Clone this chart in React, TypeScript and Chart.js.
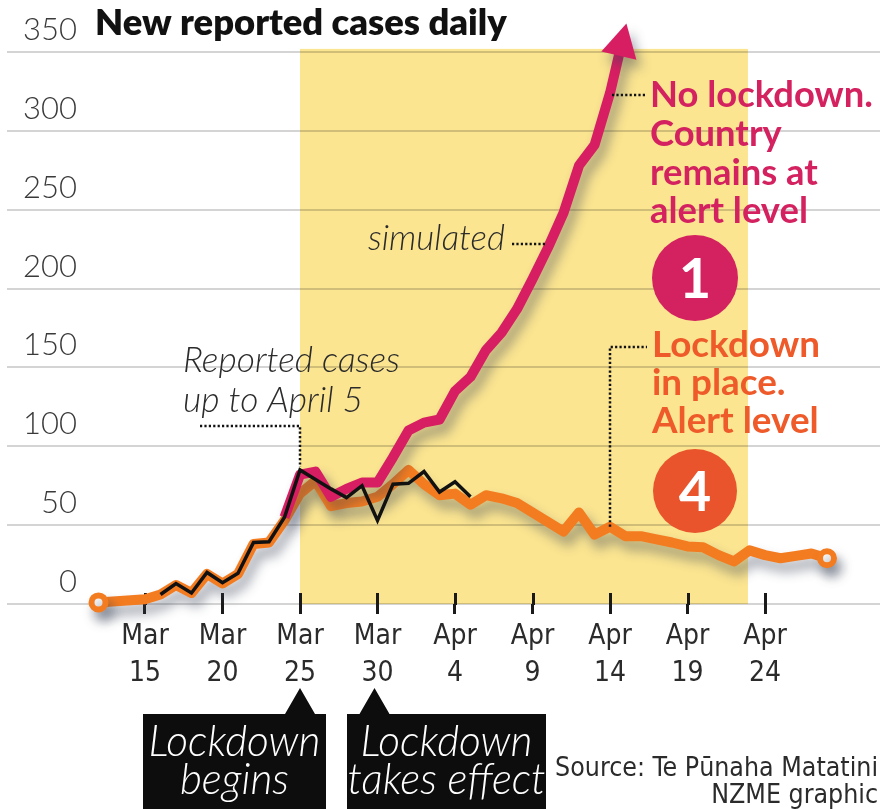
import React, { useEffect, useRef } from 'react';
import { Chart, registerables } from 'chart.js';

Chart.register(...registerables);

// Day index: 0 = Mar 15
const xTickDays = [0, 5, 10, 15, 20, 25, 30, 35, 40];
const xTickLabels = [
  ['Mar', '15'], ['Mar', '20'], ['Mar', '25'], ['Mar', '30'],
  ['Apr', '4'], ['Apr', '9'], ['Apr', '14'], ['Apr', '19'], ['Apr', '24'],
];
const yTickValues = [0, 50, 100, 150, 200, 250, 300, 350];

// Reported cases up to April 5 (black)
const reportedDays = [1, 2, 3, 4, 5, 6, 7, 8, 9, 10, 11, 12, 13, 14, 15, 16, 17, 18, 19, 20, 21];
const reportedCases = [6, 13, 7, 20, 13.5, 19.5, 39, 39.5, 55, 85, 79, 73, 67.5, 75, 53, 76, 76.5, 84, 71, 77.5, 68];

// Simulated: no lockdown, alert level 1 (pink)
const noLockdownDays = [9, 10, 11, 12, 13, 14, 15, 16, 17, 18, 19, 20, 21, 22, 23, 24, 25, 26, 27, 28, 29, 30, 30.6];
const noLockdownCases = [55, 82, 84, 68, 73, 77, 77, 93, 110, 115, 117, 135, 144, 161, 172, 187, 206, 226, 248, 278, 291, 324, 349];

// Simulated: lockdown in place, alert level 4 (orange)
const lockdownDays = [-3, 0, 1, 2, 3, 4, 5, 6, 7, 8, 9, 10, 11, 12, 13, 14, 15, 16, 17, 18, 19, 20, 21, 22, 23, 24, 25, 26, 27, 28, 29, 30, 31, 32, 33, 34, 35, 36, 37, 38, 39, 40, 41, 42, 43, 44];
const lockdownCases = [1, 3, 6, 12, 7, 19, 13, 19, 38, 39, 53, 70, 78, 62, 64, 65, 68, 76, 85, 76, 69, 70, 63, 69, 67, 64, 58, 52, 46, 58, 44, 49, 43, 43, 41, 39, 36.5, 36, 31, 27, 34, 31, 29, 30.5, 32, 29];

// Shaded lockdown period
const shadeStartDay = 10;
const shadeEndDay = 38.9;
const shadeTopValue = 352;

const TITLE = 'New reported cases daily';
const reportedNote = ['Reported cases', 'up to April 5'];
const simulatedNote = 'simulated';
const pinkNote = ['No lockdown.', 'Country', 'remains at', 'alert level'];
const orangeNote = ['Lockdown', 'in place.', 'Alert level'];
const box1Lines = ['Lockdown', 'begins'];
const box2Lines = ['Lockdown', 'takes effect'];
const sourceLines = ['Source: Te Pūnaha Matatini', 'NZME graphic'];

const PINK = '#d81e62';
const PINK_TEXT = '#d4215f';
const ORANGE = '#f47c20';
const ORANGE_TEXT = '#ee5a29';
const ORANGE_CIRCLE = '#e9542c';
const YELLOW = '#fbe591';
const SHADOW = 'rgba(55,65,85,0.45)';

const LATO = "Lato, 'Open Sans', sans-serif";
const NARROW = "'Liberation Sans Narrow', 'DejaVu Sans Condensed', Roboto, sans-serif";

function fitSize(ctx: CanvasRenderingContext2D, text: string, fontFn: (s: number) => string, target: number, base: number) {
  ctx.font = fontFn(base);
  const w = ctx.measureText(text).width;
  return w > 0 ? (base * target) / w : base;
}

function dotted(ctx: CanvasRenderingContext2D, pts: number[][]) {
  ctx.save();
  ctx.strokeStyle = '#111';
  ctx.lineWidth = 2.5;
  ctx.setLineDash([2.2, 2.2]);
  ctx.beginPath();
  pts.forEach((p, i) => (i ? ctx.lineTo(p[0], p[1]) : ctx.moveTo(p[0], p[1])));
  ctx.stroke();
  ctx.restore();
}

const artPlugin = {
  id: 'art',
  beforeDraw(chart: any) {
    const { ctx } = chart;
    const xs = chart.scales.x;
    const ys = chart.scales.y;
    const x0 = xs.getPixelForValue(shadeStartDay);
    const x1 = xs.getPixelForValue(shadeEndDay);
    const y0 = ys.getPixelForValue(shadeTopValue);
    const y1 = ys.getPixelForValue(0);
    ctx.save();
    ctx.fillStyle = YELLOW;
    ctx.fillRect(x0, y0, x1 - x0, y1 - y0);
    ctx.restore();
  },
  beforeDatasetsDraw(chart: any) {
    // upper stubs of x tick marks (crossing the axis line)
    const { ctx } = chart;
    const xs = chart.scales.x;
    const yb = chart.chartArea.bottom;
    ctx.save();
    ctx.strokeStyle = '#1a1a1a';
    ctx.lineWidth = 3;
    xs.ticks.forEach((t: any) => {
      const px = Math.round(xs.getPixelForValue(t.value)) + 0.5;
      ctx.beginPath();
      ctx.moveTo(px, yb - 11);
      ctx.lineTo(px, yb + 1);
      ctx.stroke();
    });
    ctx.restore();
  },
  beforeDatasetDraw(chart: any, args: any) {
    const ds = chart.data.datasets[args.index];
    const ctx = chart.ctx;
    ctx.save();
    if (ds.shadow) {
      ctx.shadowColor = SHADOW;
      ctx.shadowBlur = 12;
      ctx.shadowOffsetX = 5;
      ctx.shadowOffsetY = 9;
    }
  },
  afterDatasetDraw(chart: any) {
    chart.ctx.restore();
  },
  afterDatasetsDraw(chart: any) {
    // arrow head at the end of the simulated no-lockdown line
    const { ctx } = chart;
    const meta = chart.getDatasetMeta(1);
    const pts = meta.data;
    const a = pts[pts.length - 2];
    const b = pts[pts.length - 1];
    const dx = b.x - a.x;
    const dy = b.y - a.y;
    const len = Math.hypot(dx, dy) || 1;
    const ux = dx / len;
    const uy = dy / len;
    const px = -uy;
    const py = ux;
    const bx = b.x - ux * 2;
    const by = b.y - uy * 2;
    ctx.save();
    ctx.shadowColor = SHADOW;
    ctx.shadowBlur = 12;
    ctx.shadowOffsetX = 5;
    ctx.shadowOffsetY = 9;
    ctx.fillStyle = PINK;
    ctx.beginPath();
    ctx.moveTo(b.x + ux * 31, b.y + uy * 31);
    ctx.lineTo(bx + px * 18, by + py * 18);
    ctx.lineTo(bx - px * 18, by - py * 18);
    ctx.closePath();
    ctx.fill();
    ctx.restore();
  },
  afterDraw(chart: any) {
    const { ctx } = chart;
    const xs = chart.scales.x;
    const ys = chart.scales.y;
    ctx.save();
    ctx.textBaseline = 'alphabetic';
    ctx.textAlign = 'left';

    // Title
    const titleFont = (s: number) => `800 ${s}px ${LATO}`;
    let s = fitSize(ctx, TITLE, titleFont, 412, 32);
    ctx.font = titleFont(s);
    ctx.fillStyle = '#111';
    ctx.fillText(TITLE, 95, 35);

    // Reported cases note
    const italicLight = (sz: number) => `italic 300 ${sz}px ${LATO}`;
    s = fitSize(ctx, reportedNote[0], italicLight, 217, 32);
    ctx.font = italicLight(s);
    ctx.fillStyle = '#2b2b2b';
    ctx.fillText(reportedNote[0], 183, 372);
    ctx.fillText(reportedNote[1], 183, 412);
    const px10 = xs.getPixelForValue(10);
    dotted(ctx, [[200, 426], [px10, 426], [px10, ys.getPixelForValue(85) - 3]]);

    // simulated note
    s = fitSize(ctx, simulatedNote, italicLight, 137, 32);
    ctx.font = italicLight(s);
    ctx.fillStyle = '#2b2b2b';
    ctx.fillText(simulatedNote, 368, 250);
    dotted(ctx, [[512, 244], [547, 244]]);

    // Pink note
    const boldFont = (sz: number) => `bold ${sz}px ${LATO}`;
    s = fitSize(ctx, pinkNote[0], boldFont, 223, 32);
    ctx.font = boldFont(s);
    ctx.fillStyle = PINK_TEXT;
    const pinkBase = [107, 146, 185, 223];
    pinkNote.forEach((t, i) => ctx.fillText(t, 650, pinkBase[i]));
    dotted(ctx, [[612, 95], [647, 95]]);

    // Circle 1
    ctx.fillStyle = PINK_TEXT;
    ctx.beginPath();
    ctx.arc(695, 278, 43, 0, Math.PI * 2);
    ctx.fill();
    ctx.fillStyle = '#fff';
    ctx.font = `bold 56px ${LATO}`;
    ctx.textAlign = 'center';
    ctx.fillText('1', 695, 298);
    ctx.textAlign = 'left';

    // Orange note
    s = fitSize(ctx, orangeNote[0], boldFont, 168, 32);
    ctx.font = boldFont(s);
    ctx.fillStyle = ORANGE_TEXT;
    const orangeBase = [357, 395, 433];
    orangeNote.forEach((t, i) => ctx.fillText(t, 652, orangeBase[i]));
    const px30 = xs.getPixelForValue(30);
    dotted(ctx, [[px30, ys.getPixelForValue(49)], [px30, 347], [647, 347]]);

    // Circle 4
    ctx.fillStyle = ORANGE_CIRCLE;
    ctx.beginPath();
    ctx.arc(695, 491, 42, 0, Math.PI * 2);
    ctx.fill();
    ctx.fillStyle = '#fff';
    ctx.font = `bold 56px ${LATO}`;
    ctx.textAlign = 'center';
    ctx.fillText('4', 695, 511);

    // Black boxes
    const drawBox = (left: number, right: number, tipX: number, lines: string[]) => {
      ctx.fillStyle = '#0d0d0d';
      ctx.beginPath();
      ctx.moveTo(left, 714);
      ctx.lineTo(tipX - 15, 714);
      ctx.lineTo(tipX, 688);
      ctx.lineTo(tipX + 15, 714);
      ctx.lineTo(right, 714);
      ctx.lineTo(right, 809);
      ctx.lineTo(left, 809);
      ctx.closePath();
      ctx.fill();
      const sz = fitSize(ctx, 'Lockdown', italicLight, 172, 36);
      ctx.font = italicLight(sz);
      ctx.fillStyle = '#fff';
      ctx.textAlign = 'center';
      const cx = (left + right) / 2;
      ctx.fillText(lines[0], cx, 756);
      ctx.fillText(lines[1], cx, 794);
    };
    drawBox(143, 326, px10, box1Lines);
    drawBox(347, 546, xs.getPixelForValue(15) - 3, box2Lines);

    // Source
    const narrow = (sz: number) => `${sz}px ${NARROW}`;
    s = fitSize(ctx, sourceLines[0], narrow, 323, 27);
    ctx.font = narrow(s);
    ctx.fillStyle = '#2b2b2b';
    ctx.textAlign = 'right';
    ctx.fillText(sourceLines[0], 878, 776);
    ctx.fillText(sourceLines[1], 878, 803);

    ctx.restore();
  },
};

export default function App() {
  const canvasRef = useRef<HTMLCanvasElement | null>(null);

  useEffect(() => {
    document.body.style.margin = '0';
    const canvas = canvasRef.current;
    if (!canvas) return;
    const mctx = canvas.getContext('2d')!;
    const yFont = { family: LATO, size: 31, weight: '300' as any };
    mctx.font = `300 31px ${LATO}`;
    const widest = mctx.measureText('350').width;
    const yPad = 70 - widest;

    const chart = new Chart(canvas, {
      type: 'line',
      data: {
        datasets: [
          {
            label: 'Reported cases',
            data: reportedDays.map((d, i) => ({ x: d, y: reportedCases[i] })),
            borderColor: '#111',
            borderWidth: 3.5,
            pointRadius: 0,
            borderJoinStyle: 'miter',
            order: 0,
            clip: false,
          } as any,
          {
            label: 'No lockdown',
            data: noLockdownDays.map((d, i) => ({ x: d, y: noLockdownCases[i] })),
            borderColor: PINK,
            borderWidth: 10,
            pointRadius: 0,
            borderJoinStyle: 'round',
            order: 1,
            clip: false,
            shadow: true,
          } as any,
          {
            label: 'Lockdown',
            data: lockdownDays.map((d, i) => ({ x: d, y: lockdownCases[i] })),
            borderColor: ORANGE,
            borderWidth: 10,
            borderJoinStyle: 'round',
            pointRadius: (c: any) => (c.dataIndex === 0 || c.dataIndex === lockdownDays.length - 1 ? 7 : 0),
            pointBackgroundColor: '#fff',
            pointBorderColor: ORANGE,
            pointBorderWidth: 6,
            order: 2,
            clip: false,
            shadow: true,
          } as any,
        ],
      },
      options: {
        animation: false,
        responsive: false,
        events: [],
        layout: { autoPadding: false, padding: { left: 7, right: 0, top: 0, bottom: 0 } },
        plugins: {
          legend: { display: false },
          tooltip: { enabled: false },
        },
        scales: {
          x: {
            type: 'linear',
            min: (7 - 145) / 15.5,
            max: (880 - 145) / 15.5,
            afterBuildTicks: (sc: any) => {
              sc.ticks = xTickDays.map((v) => ({ value: v }));
            },
            afterFit: (sc: any) => {
              sc.height = 205;
              sc.paddingLeft = 0;
              sc.paddingRight = 0;
              sc.paddingTop = 0;
              sc.paddingBottom = 0;
            },
            grid: {
              drawOnChartArea: false,
              drawTicks: true,
              tickLength: 10,
              tickColor: '#1a1a1a',
              tickWidth: 3,
            },
            border: { display: false },
            ticks: {
              autoSkip: false,
              maxRotation: 0,
              minRotation: 0,
              padding: 5,
              color: '#2b2b2b',
              font: { family: NARROW, size: 28, lineHeight: 1.3 },
              callback: (_v: any, i: number) => xTickLabels[i],
            },
          },
          y: {
            type: 'linear',
            min: 0,
            max: 383,
            afterBuildTicks: (sc: any) => {
              sc.ticks = yTickValues.map((v) => ({ value: v }));
            },
            afterFit: (sc: any) => {
              sc.width = 0;
              sc.paddingLeft = 0;
              sc.paddingRight = 0;
              sc.paddingTop = 0;
              sc.paddingBottom = 0;
            },
            grid: {
              color: 'rgba(0,0,0,0.17)',
              lineWidth: 2,
              drawTicks: false,
            },
            border: { display: false },
            ticks: {
              mirror: true,
              crossAlign: 'far',
              padding: yPad,
              labelOffset: -22,
              color: '#3a3a3a',
              font: yFont,
            },
          },
        },
      } as any,
      plugins: [artPlugin as any],
    });
    return () => chart.destroy();
  }, []);

  return (
    <div style={{ position: 'absolute', left: 0, top: 0, width: 880, height: 809, background: '#fff' }}>
      <canvas ref={canvasRef} width={880} height={809} style={{ display: 'block', width: 880, height: 809 }} />
    </div>
  );
}
